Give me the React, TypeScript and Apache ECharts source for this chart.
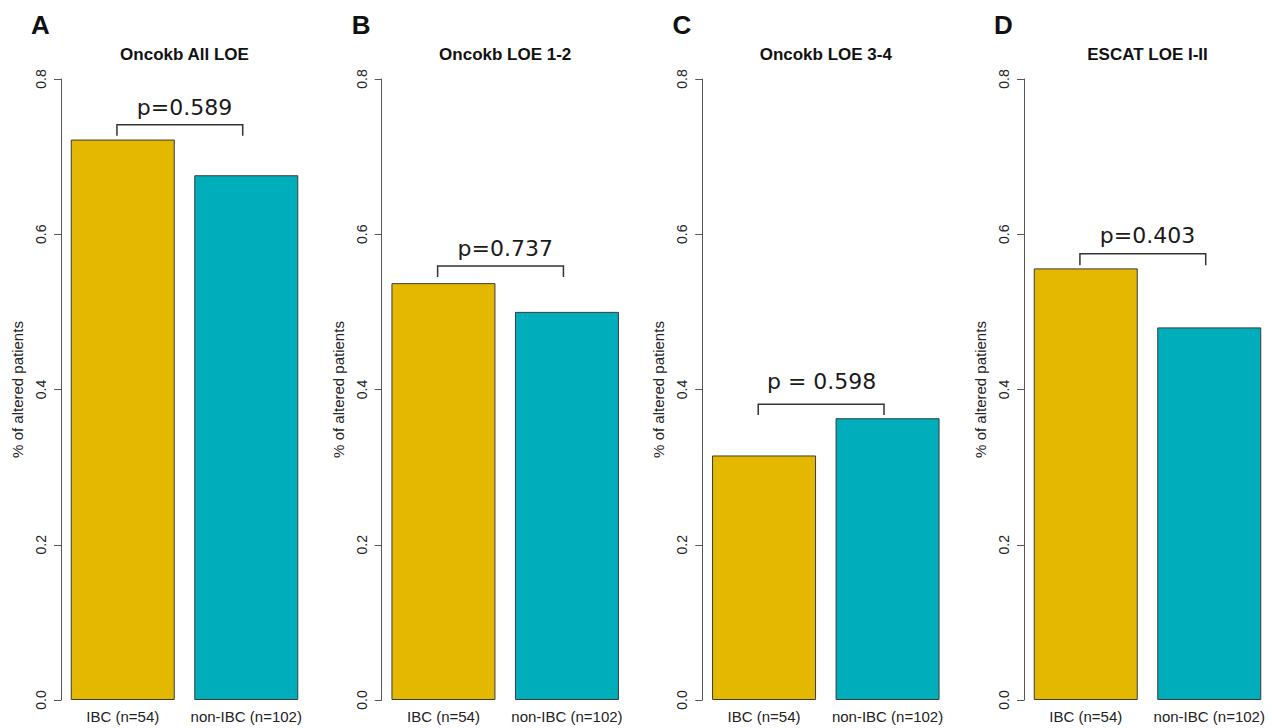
import React, { useEffect, useRef } from "react";
import * as echarts from "echarts";

// Panel content
const panelLetters = ["A", "B", "C", "D"];
const panelTitles = ["Oncokb All LOE", "Oncokb LOE 1-2", "Oncokb LOE 3-4", "ESCAT LOE I-II"];
const groups = ["IBC (n=54)", "non-IBC (n=102)"];
const ibcValues = [0.722, 0.537, 0.315, 0.556];
const nonIbcValues = [0.676, 0.5, 0.363, 0.48];
const pLabels = ["p=0.589", "p=0.737", "p = 0.598", "p=0.403"];
// bracket geometry in data units (x in barplot user coordinates)
const bracketLeft = [0.65, 0.65, 0.65, 0.65];
const bracketRight = [1.86, 1.86, 1.86, 1.86];
const bracketLow = [0.727, 0.545, 0.367, 0.56];
const bracketHigh = [0.741, 0.559, 0.381, 0.575];
const pLabelX = [1.3, 1.3, 1.26, 1.3];
const pLabelY = [0.763, 0.582, 0.41, 0.599];
const yMin = 0;
const yMax = 0.8;
const yStep = 0.2;

const GOLD = "#E5B800";
const TEAL = "#00ADBA";

// layout
const panelLeft = [61, 381.7, 702.3, 1024];
const plotWidth = 247;
const plotTop = 79;
const plotBottom = 700;
const H = 728;
const W = 1272;

export default function App() {
  const ref = useRef<HTMLDivElement>(null);

  useEffect(() => {
    if (!ref.current) return;
    const chart = echarts.init(ref.current, null, { renderer: "svg" });

    const grids: any[] = [];
    const xAxes: any[] = [];
    const yAxes: any[] = [];
    const series: any[] = [];
    const graphics: any[] = [];

    panelTitles.forEach((title, i) => {
      grids.push({
        left: panelLeft[i],
        width: plotWidth,
        top: plotTop,
        height: plotBottom - plotTop,
        containLabel: false,
      });
      yAxes.push({
        type: "value",
        gridIndex: i,
        min: yMin,
        max: yMax,
        interval: yStep,
        name: "% of altered patients",
        nameLocation: "middle",
        nameGap: 36,
        nameRotate: 90,
        nameTextStyle: { fontSize: 15, color: "#222", fontFamily: "Liberation Sans" },
        axisLine: { show: true, lineStyle: { color: "#555", width: 1 } },
        axisTick: { show: true, length: 7, lineStyle: { color: "#555" } },
        axisLabel: {
          rotate: 90,
          margin: 13,
          fontSize: 14,
          color: "#222",
          fontFamily: "Liberation Sans",
          formatter: (v: number) => v.toFixed(1),
        },
        splitLine: { show: false },
      });
    });

    // category axes for bars
    panelTitles.forEach((_, i) => {
      xAxes.push({
        type: "category",
        gridIndex: i,
        data: groups,
        axisLine: { show: false },
        axisTick: { show: false },
        axisLabel: {
          margin: 9,
          fontSize: 15,
          color: "#222",
          fontFamily: "Liberation Sans",
          interval: 0,
        },
      });
    });
    // value axes in barplot user coordinates, for brackets
    panelTitles.forEach((_, i) => {
      xAxes.push({
        type: "value",
        gridIndex: i,
        min: 0.112,
        max: 2.488,
        show: false,
      });
    });

    panelTitles.forEach((title, i) => {
      series.push({
        type: "bar",
        xAxisIndex: i,
        yAxisIndex: i,
        barWidth: 104,
        data: [
          { value: ibcValues[i], itemStyle: { color: GOLD } },
          { value: nonIbcValues[i], itemStyle: { color: TEAL } },
        ],
        itemStyle: { borderColor: "#3a3a3a", borderWidth: 1 },
      });
      series.push({
        type: "custom",
        xAxisIndex: 4 + i,
        yAxisIndex: i,
        data: [[bracketLeft[i], bracketRight[i], bracketLow[i], bracketHigh[i], pLabelX[i], pLabelY[i]]],
        renderItem: (params: any, api: any) => {
          const x0 = api.value(0);
          const x1 = api.value(1);
          const lo = api.value(2);
          const hi = api.value(3);
          const tx = api.value(4);
          const ty = api.value(5);
          const a = api.coord([x0, lo]);
          const b = api.coord([x0, hi]);
          const c = api.coord([x1, hi]);
          const d = api.coord([x1, lo]);
          const t = api.coord([tx, ty]);
          return {
            type: "group",
            children: [
              {
                type: "polyline",
                shape: { points: [a, b, c, d] },
                style: { stroke: "#333", lineWidth: 1.5, fill: null },
              },
              {
                type: "text",
                x: t[0],
                y: t[1],
                style: {
                  text: pLabels[i],
                  fill: "#1a1a1a",
                  fontSize: 22,
                  fontFamily: "DejaVu Sans",
                  align: "center",
                  verticalAlign: "middle",
                },
              },
            ],
          };
        },
      });

      const center = panelLeft[i] + plotWidth / 2;
      graphics.push({
        type: "text",
        x: center,
        y: 54,
        style: {
          text: title,
          fill: "#111",
          fontSize: 17,
          fontWeight: "bold",
          fontFamily: "Liberation Sans",
          align: "center",
          verticalAlign: "middle",
        },
      });
      graphics.push({
        type: "text",
        x: panelLeft[i] - 20.5,
        y: 25,
        style: {
          text: panelLetters[i],
          fill: "#111",
          fontSize: 26,
          fontWeight: "bold",
          fontFamily: "Liberation Sans",
          align: "center",
          verticalAlign: "middle",
        },
      });
    });

    chart.setOption({
      animation: false,
      backgroundColor: "#fff",
      grid: grids,
      xAxis: xAxes,
      yAxis: yAxes,
      series,
      graphic: graphics,
    });

    return () => chart.dispose();
  }, []);

  return (
    <div
      ref={ref}
      style={{ position: "fixed", left: 0, top: 0, width: W, height: H, background: "#fff" }}
    />
  );
}
